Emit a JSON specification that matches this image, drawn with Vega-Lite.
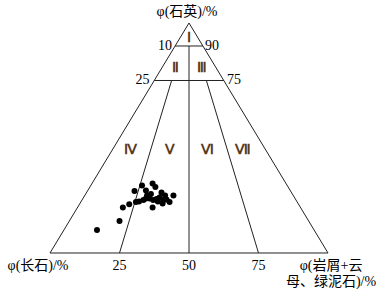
{
  "$schema": "https://vega.github.io/schema/vega-lite/v6.json",
  "width": 384,
  "height": 292,
  "autosize": "none",
  "padding": 0,
  "background": "white",
  "config": {"view": {"stroke": null}},
  "datasets": {
    "lines": [
      {"x": 0, "y": 0, "x2": 100, "y2": 0},
      {"x": 0, "y": 0, "x2": 50, "y2": 100},
      {"x": 100, "y": 0, "x2": 50, "y2": 100},
      {"x": 45, "y": 90, "x2": 55, "y2": 90},
      {"x": 37.5, "y": 75, "x2": 62.5, "y2": 75},
      {"x": 50, "y": 90, "x2": 50, "y2": 0},
      {"x": 43.75, "y": 75, "x2": 25, "y2": 0},
      {"x": 56.25, "y": 75, "x2": 75, "y2": 0}
    ],
    "points": [
      {"x": 16.9, "y": 10.0}, {"x": 25.0, "y": 13.9}, {"x": 26.2, "y": 19.8},
      {"x": 28.5, "y": 21.2}, {"x": 30.4, "y": 27.0}, {"x": 33.1, "y": 29.3},
      {"x": 34.5, "y": 27.2}, {"x": 36.9, "y": 30.2}, {"x": 37.9, "y": 28.7},
      {"x": 34.9, "y": 25.0}, {"x": 36.3, "y": 25.7}, {"x": 40.1, "y": 26.3},
      {"x": 41.4, "y": 25.0}, {"x": 44.4, "y": 25.0}, {"x": 32.0, "y": 22.4},
      {"x": 33.6, "y": 23.0}, {"x": 34.5, "y": 23.7}, {"x": 35.8, "y": 23.7},
      {"x": 37.1, "y": 23.0}, {"x": 38.3, "y": 23.5}, {"x": 39.4, "y": 24.1},
      {"x": 38.8, "y": 22.4}, {"x": 40.5, "y": 21.5}, {"x": 40.8, "y": 23.0},
      {"x": 41.9, "y": 23.3}, {"x": 43.0, "y": 22.2}, {"x": 36.9, "y": 19.8},
      {"x": 30.9, "y": 22.2}
    ],
    "numbers": [
      {"t": "10", "x": 41.4, "y": 90.2},
      {"t": "90", "x": 58.3, "y": 90.2},
      {"t": "25", "x": 33.3, "y": 75.2},
      {"t": "75", "x": 66.2, "y": 75.2},
      {"t": "25", "x": 25, "y": -5.7},
      {"t": "50", "x": 50, "y": -5.7},
      {"t": "75", "x": 75, "y": -5.7}
    ],
    "roman": [
      {"t": "Ⅰ", "x": 50, "y": 93.6},
      {"t": "Ⅱ", "x": 45.0, "y": 80.6},
      {"t": "Ⅲ", "x": 54.6, "y": 80.6},
      {"t": "Ⅳ", "x": 29.0, "y": 44.8},
      {"t": "Ⅴ", "x": 43.2, "y": 44.8},
      {"t": "Ⅵ", "x": 56.5, "y": 44.8},
      {"t": "Ⅶ", "x": 69.4, "y": 44.8}
    ],
    "titles": [
      {"t": ["φ(石英)/%"], "x": 49.3, "y": 104.8},
      {"t": ["φ(长石)/%"], "x": -4.3, "y": -5.7},
      {"t": ["φ(岩屑+云", "母、绿泥石)/%"], "x": 101.1, "y": -5.7}
    ]
  },
  "layer": [
    {
      "data": {"name": "lines"},
      "mark": {"type": "rule", "color": "#222", "strokeWidth": 1},
      "encoding": {
        "x": {"field": "x", "type": "quantitative", "scale": {"domain": [-17.99, 120.14], "nice": false, "zero": false}, "axis": null},
        "y": {"field": "y", "type": "quantitative", "scale": {"domain": [-16.96, 110], "nice": false, "zero": false}, "axis": null},
        "x2": {"field": "x2"},
        "y2": {"field": "y2"}
      }
    },
    {
      "data": {"name": "points"},
      "mark": {"type": "circle", "color": "black", "opacity": 1, "size": 36},
      "encoding": {
        "x": {"field": "x", "type": "quantitative"},
        "y": {"field": "y", "type": "quantitative"}
      }
    },
    {
      "data": {"name": "numbers"},
      "mark": {"type": "text", "font": "Liberation Serif", "fontSize": 14, "color": "black", "baseline": "middle", "align": "center"},
      "encoding": {
        "x": {"field": "x", "type": "quantitative"},
        "y": {"field": "y", "type": "quantitative"},
        "text": {"field": "t"}
      }
    },
    {
      "data": {"name": "roman"},
      "mark": {"type": "text", "font": "Liberation Serif", "fontSize": 14, "fontWeight": "bold", "color": "#5a3a1e", "baseline": "middle", "align": "center"},
      "encoding": {
        "x": {"field": "x", "type": "quantitative"},
        "y": {"field": "y", "type": "quantitative"},
        "text": {"field": "t"}
      }
    },
    {
      "data": {"name": "titles"},
      "mark": {"type": "text", "font": "Liberation Serif, Noto Sans CJK SC", "fontSize": 14, "color": "black", "baseline": "middle", "align": "center", "lineHeight": 16},
      "encoding": {
        "x": {"field": "x", "type": "quantitative"},
        "y": {"field": "y", "type": "quantitative"},
        "text": {"field": "t"}
      }
    }
  ]
}
